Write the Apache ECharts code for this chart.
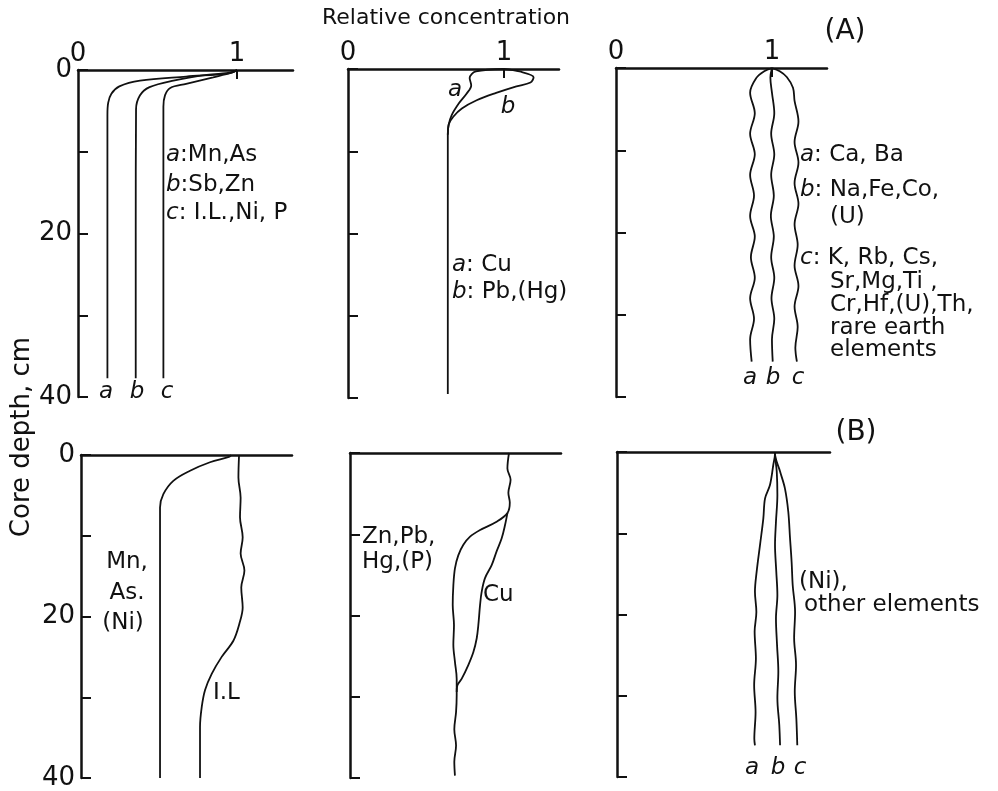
<!DOCTYPE html>
<html><head><meta charset="utf-8">
<script src="https://cdn.jsdelivr.net/npm/echarts@6/dist/echarts.min.js"></script>
<style>html,body{margin:0;padding:0;background:#fff}#c{width:998px;height:791px}</style>
</head><body><div id="c"></div>
<script>
// ---------- DATA (relative concentration vs core depth, cm) ----------
// Panel A-1
const depthA1a = [0, 0.4, 0.8, 1.3, 2.0, 2.9, 4.0, 5.5, 20, 37.7];
const concA1a  = [1.0, 0.95, 0.68, 0.39, 0.26, 0.21, 0.19, 0.185, 0.185, 0.185];
const depthA1b = [0, 0.3, 0.6, 1.3, 2.1, 3.1, 4.8, 20, 37.7];
const concA1b  = [1.0, 0.97, 0.81, 0.60, 0.45, 0.39, 0.365, 0.363, 0.363];
const depthA1c = [0, 0.3, 0.9, 1.7, 2.2, 3.1, 4.5, 20, 37.7];
const concA1c  = [1.0, 0.97, 0.85, 0.68, 0.58, 0.547, 0.537, 0.537, 0.537];
// Panel A-2
const depthA2a = [0, 0.3, 1.1, 2.0, 3.0, 4.2, 5.6, 6.8, 8.0, 20, 39.5];
const concA2a  = [1.0, 0.82, 0.78, 0.79, 0.76, 0.71, 0.665, 0.645, 0.64, 0.64, 0.64];
const depthA2b = [0, 0.3, 1.0, 1.65, 2.1, 2.9, 3.8, 4.8, 5.8, 6.7, 8.0];
const concA2b  = [1.0, 1.10, 1.19, 1.17, 1.08, 0.95, 0.825, 0.73, 0.675, 0.647, 0.64];
// Panel A-3
const depthA3a = [0, 0.4, 1.2, 3, 5.5, 8, 10.5, 13, 15.5, 18, 20.5, 23, 25.5, 28, 30.5, 33, 35.7];
const concA3a  = [1.0, 0.95, 0.90, 0.86, 0.89, 0.86, 0.89, 0.86, 0.885, 0.86, 0.89, 0.865, 0.89, 0.86, 0.885, 0.86, 0.87];
const depthA3b = [0, 1.2, 3, 5.5, 8, 10.5, 13, 15.5, 18, 20.5, 23, 25.5, 28, 30.5, 33, 35.7];
const concA3b  = [1.0, 0.99, 1.0, 1.015, 0.995, 1.015, 0.995, 1.012, 0.993, 1.012, 0.995, 1.015, 0.997, 1.015, 1.0, 1.005];
const depthA3c = [0, 0.4, 1.1, 2.4, 4, 6.5, 9, 11.5, 14, 16.5, 19, 21.5, 24, 26.5, 29, 31.5, 34, 35.7];
const concA3c  = [1.0, 1.05, 1.095, 1.135, 1.145, 1.17, 1.145, 1.17, 1.145, 1.17, 1.145, 1.165, 1.145, 1.17, 1.145, 1.165, 1.15, 1.16];
// Panel B-1
const depthB1mn = [0, 0.2, 0.9, 1.95, 3.2, 4.85, 6.5, 20, 40];
const concB1mn  = [0.95, 0.94, 0.816, 0.69, 0.584, 0.521, 0.5, 0.5, 0.5];
const depthB1il = [0, 2.8, 5.3, 7.7, 10.2, 12.2, 14.3, 16.4, 18.9, 20.9, 23, 25, 27.1, 29.1, 31.2, 33.7, 40];
const concB1il  = [1.0, 0.996, 1.01, 1.006, 1.023, 1.01, 1.034, 1.014, 1.023, 1.002, 0.964, 0.89, 0.827, 0.785, 0.764, 0.753, 0.753];
// Panel B-2
const depthB2zn = [0, 1.9, 3.3, 4.9, 6.1, 7.4, 8.46, 9.48, 10.3, 11.3, 12.6, 14.2, 16.3, 18.7, 21.2, 23.6, 25.7, 27.8, 29.8, 31.9, 34, 36, 38, 39.7];
const concB2zn  = [1.0, 0.99, 1.01, 0.996, 1.005, 0.99, 0.922, 0.818, 0.755, 0.713, 0.681, 0.66, 0.65, 0.646, 0.654, 0.65, 0.66, 0.671, 0.671, 0.667, 0.656, 0.667, 0.656, 0.66];
const depthB2cu = [7.4, 8.87, 10.5, 12.1, 13.8, 15.4, 17.1, 18.7, 21.2, 22.8, 24.5, 26.1, 27.8, 28.6, 29.4];
const concB2cu  = [0.99, 0.975, 0.954, 0.922, 0.891, 0.849, 0.828, 0.818, 0.807, 0.797, 0.776, 0.744, 0.702, 0.675, 0.671];
// Panel B-3
const depthB3a = [0, 0.16, 1.6, 4.06, 5.7, 8.2, 11.45, 14.7, 17.2, 19.7, 22.1, 25.4, 28.7, 32.0, 35.3, 36.1];
const concB3a  = [1.0, 1.0, 0.989, 0.968, 0.937, 0.926, 0.905, 0.884, 0.873, 0.882, 0.871, 0.879, 0.868, 0.877, 0.869, 0.873];
const depthB3b = [0, 0.16, 2.4, 5.3, 8.6, 11.45, 14.7, 17.6, 20.5, 23.8, 27.0, 30.3, 33.6, 36.1];
const concB3b  = [1.0, 1.0, 1.011, 1.015, 1.006, 1.0, 1.008, 1.015, 1.006, 1.013, 1.021, 1.015, 1.027, 1.032];
const depthB3c = [0, 0.16, 2.4, 4.5, 7.35, 10.6, 13.5, 16.4, 19.7, 22.9, 26.2, 29.5, 32.8, 36.1];
const concB3c  = [1.0, 1.0, 1.032, 1.063, 1.084, 1.095, 1.105, 1.112, 1.127, 1.121, 1.133, 1.125, 1.135, 1.141];

const xTickLabels = [0, 1];
const yTickLabels = [0, 20, 40];

// ---------- LAYOUT ----------
const FF = '"DejaVu Sans", sans-serif';
const INK = '#111';
const grids = [
  {left: 78, top: 70, width: 215, height: 327},
  {left: 348, top: 69, width: 211, height: 329},
  {left: 616, top: 68, width: 211, height: 329},
  {left: 81, top: 455, width: 211, height: 323},
  {left: 350, top: 453, width: 211, height: 325},
  {left: 617, top: 452, width: 213, height: 325}
];
const xMax = [1.352, 1.353, 1.353, 1.335, 1.327, 1.348];

const xAxes = grids.map((g, i) => ({
  gridIndex: i, type: 'value', position: 'top', min: 0, max: xMax[i],
  axisLine: {show: true, onZero: false, lineStyle: {color: INK, width: 2.5}},
  axisTick: {show: i < 3, inside: true, length: 9, customValues: [1], lineStyle: {color: INK, width: 2}},
  axisLabel: {show: i < 3, customValues: xTickLabels, fontSize: 26, color: INK, margin: 3, fontFamily: FF},
  splitLine: {show: false}
}));
const yAxes = grids.map((g, i) => ({
  gridIndex: i, type: 'value', inverse: true, min: 0, max: 40, interval: 10,
  axisLine: {show: true, onZero: false, lineStyle: {color: INK, width: 2.5}},
  axisTick: {show: true, inside: true, length: 10, lineStyle: {color: INK, width: 2}},
  axisLabel: {show: i % 3 === 0, fontSize: 26, color: INK, margin: 6, fontFamily: FF,
    formatter: v => (yTickLabels.indexOf(v) >= 0 ? String(v) : '')},
  splitLine: {show: false}
}));

function zip(c, d) { return c.map((v, k) => [v, d[k]]); }
function S(idx, c, d, sm) {
  return {type: 'line', xAxisIndex: idx, yAxisIndex: idx, data: zip(c, d),
    showSymbol: false, smooth: sm == null ? 0.35 : sm, silent: true, clip: false,
    lineStyle: {color: INK, width: 1.8}};
}
const series = [
  S(0, concA1a, depthA1a), S(0, concA1b, depthA1b), S(0, concA1c, depthA1c),
  S(1, concA2a, depthA2a), S(1, concA2b, depthA2b),
  S(2, concA3a, depthA3a), S(2, concA3b, depthA3b), S(2, concA3c, depthA3c),
  S(3, concB1mn, depthB1mn), S(3, concB1il, depthB1il),
  S(4, concB2zn, depthB2zn), S(4, concB2cu, depthB2cu),
  S(5, concB3a, depthB3a), S(5, concB3b, depthB3b), S(5, concB3c, depthB3c)
];

const rich = {i: {fontStyle: 'italic', fontSize: 23, fontFamily: FF, fill: INK}};
function T(x, y, text, o) {
  o = o || {};
  return {type: 'text', x: x, y: y, rotation: o.rot || 0, silent: true,
    style: {text: text, fontSize: o.fs || 23, fontFamily: FF, fill: INK,
      fontStyle: o.it ? 'italic' : 'normal',
      align: o.align || 'left', verticalAlign: 'middle', rich: rich}};
}
const graphics = [
  T(446, 18, 'Relative concentration', {fs: 22, align: 'center'}),
  T(845, 32, '(A)', {fs: 28, align: 'center'}),
  T(856, 433, '(B)', {fs: 28, align: 'center'}),
  T(22, 437, 'Core depth, cm', {fs: 26, align: 'center', rot: Math.PI / 2}),
  // A1
  T(166, 155, '{i|a}:Mn,As'), T(166, 185, '{i|b}:Sb,Zn'), T(166, 213, '{i|c}: I.L.,Ni, P'),
  T(106, 392, 'a', {it: true, align: 'center'}), T(137, 392, 'b', {it: true, align: 'center'}), T(167, 392, 'c', {it: true, align: 'center'}),
  // A2
  T(455, 90, 'a', {it: true, align: 'center'}), T(508, 107, 'b', {it: true, align: 'center'}),
  T(452, 265, '{i|a}: Cu'), T(452, 292, '{i|b}: Pb,(Hg)'),
  // A3
  T(800, 155, '{i|a}: Ca, Ba'), T(800, 190, '{i|b}: Na,Fe,Co,'), T(830, 217, '(U)'),
  T(800, 258, '{i|c}: K, Rb, Cs,'), T(830, 282, 'Sr,Mg,Ti ,'), T(830, 305, 'Cr,Hf,(U),Th,'),
  T(830, 328, 'rare earth'), T(830, 350, 'elements'),
  T(750, 378, 'a', {it: true, align: 'center'}), T(773, 378, 'b', {it: true, align: 'center'}), T(798, 378, 'c', {it: true, align: 'center'}),
  // B1
  T(127, 562, 'Mn,', {align: 'center'}), T(127, 593, 'As.', {align: 'center'}), T(123, 623, '(Ni)', {align: 'center'}),
  T(213, 693, 'I.L'),
  // B2
  T(362, 537, 'Zn,Pb,'), T(362, 562, 'Hg,(P)'), T(483, 595, 'Cu'),
  // B3
  T(799, 582, '(Ni),'), T(804, 605, 'other elements'),
  T(752, 768, 'a', {it: true, align: 'center'}), T(778, 768, 'b', {it: true, align: 'center'}), T(800, 768, 'c', {it: true, align: 'center'})
];

const chart = echarts.init(document.getElementById('c'), null, {renderer: 'canvas'});
chart.setOption({
  backgroundColor: '#fff', animation: false,
  grid: grids, xAxis: xAxes, yAxis: yAxes, series: series, graphic: graphics
});
</script></body></html>
